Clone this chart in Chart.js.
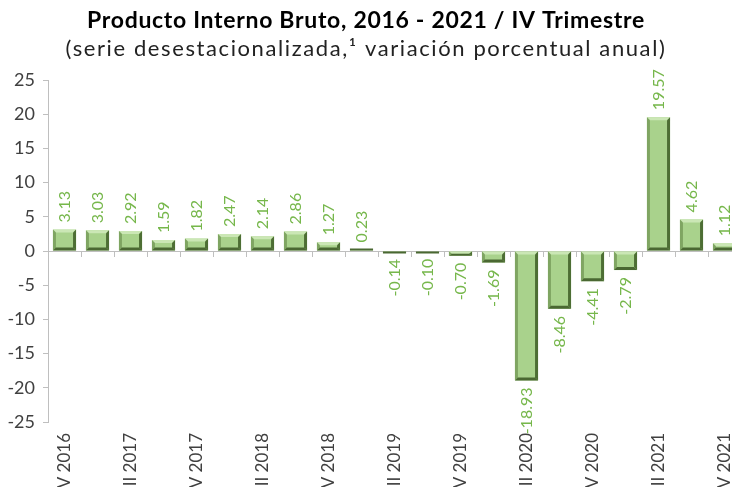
<!DOCTYPE html>
<html lang="es">
<head>
<meta charset="UTF-8">
<title>Producto Interno Bruto</title>
<script src="https://cdn.jsdelivr.net/npm/chart.js"></script>
<style>
    html, body {
        margin: 0;
        padding: 0;
        background: #ffffff;
        overflow: hidden;
    }
    .chart-box {
        position: absolute;
        left: 0;
        top: 0;
        width: 741px;
        height: 506px;
    }
</style>
</head>
<body>
<div class="chart-box">
    <canvas id="pib-chart"></canvas>
</div>
<script>
// Trimestres, IV 2016 - IV 2021
const quarters = [
    'IV 2016',
    'I 2017', 'II 2017', 'III 2017', 'IV 2017',
    'I 2018', 'II 2018', 'III 2018', 'IV 2018',
    'I 2019', 'II 2019', 'III 2019', 'IV 2019',
    'I 2020', 'II 2020', 'III 2020', 'IV 2020',
    'I 2021', 'II 2021', 'III 2021', 'IV 2021'
];

// Variacion porcentual anual (serie desestacionalizada)
const growth = [
    3.13,
    3.03, 2.92, 1.59, 1.82,
    2.47, 2.14, 2.86, 1.27,
    0.23, -0.14, -0.10, -0.70,
    -1.69, -18.93, -8.46, -4.41,
    -2.79, 19.57, 4.62, 1.12
];

const yMin = -25;
const yMax = 25;
const yStep = 5;

const chartTitle = 'Producto Interno Bruto, 2016 - 2021 / IV Trimestre';
const chartSubtitle = '(serie desestacionalizada,\u00b9 variación porcentual anual)';

const FONT = 'Lato, "DejaVu Sans", sans-serif';
const AXIS_GRAY = '#bfbfbf';
const TEXT_GRAY = '#404040';
const LABEL_GREEN = '#76b74b';

// title block, drawn with a little letter spacing
const titlePlugin = {
    id: 'titleBlock',
    afterDraw(chart) {
        const ctx = chart.ctx;
        ctx.save();
        ctx.textAlign = 'center';
        ctx.textBaseline = 'middle';
        ctx.fillStyle = '#000000';
        ctx.font = 'bold 23px ' + FONT;
        ctx.letterSpacing = '0.7px';
        ctx.fillText(chartTitle, 366, 21);
        ctx.fillStyle = '#222222';
        ctx.font = '22px ' + FONT;
        ctx.letterSpacing = '1.6px';
        ctx.fillText(chartSubtitle, 366, 49);
        ctx.restore();
    }
};

// bevelled edges on each bar (light top/left, dark right/bottom)
const bevelPlugin = {
    id: 'bevel',
    afterDatasetsDraw(chart) {
        const ctx = chart.ctx;
        const meta = chart.getDatasetMeta(0);
        const b = 3;
        ctx.save();
        meta.data.forEach(bar => {
            const left = bar.x - bar.width / 2;
            const right = bar.x + bar.width / 2;
            const top = Math.min(bar.y, bar.base);
            const bottom = Math.max(bar.y, bar.base);

            // very small values: just a dark sliver
            if (bottom - top < 2) {
                ctx.fillStyle = '#4a6832';
                if (bar.y < bar.base) {
                    ctx.fillRect(left, bar.base - 2, bar.width, 2);
                } else {
                    ctx.fillRect(left, bar.base, bar.width, 2);
                }
                return;
            }
            const bb = Math.min(b, (bottom - top) / 2);

            const poly = (pts, color) => {
                ctx.beginPath();
                ctx.moveTo(pts[0][0], pts[0][1]);
                for (let i = 1; i < pts.length; i++) ctx.lineTo(pts[i][0], pts[i][1]);
                ctx.closePath();
                ctx.fillStyle = color;
                ctx.fill();
            };
            poly([[left, top], [right, top], [right - b, top + bb], [left + b, top + bb]], '#cbe7b5');
            poly([[left, top], [left + b, top + bb], [left + b, bottom - bb], [left, bottom]], '#7fa562');
            poly([[right, top], [right, bottom], [right - b, bottom - bb], [right - b, top + bb]], '#4d6e34');
            poly([[left, bottom], [right, bottom], [right - b, bottom - bb], [left + b, bottom - bb]], '#4a6832');
        });
        ctx.restore();
    }
};

// rotated value labels at the end of each bar
const valueLabelPlugin = {
    id: 'valueLabels',
    afterDatasetsDraw(chart) {
        const ctx = chart.ctx;
        const meta = chart.getDatasetMeta(0);
        const values = chart.data.datasets[0].data;
        ctx.save();
        ctx.font = '16px ' + FONT;
        ctx.fillStyle = LABEL_GREEN;
        ctx.textBaseline = 'middle';
        meta.data.forEach((bar, i) => {
            const v = values[i];
            ctx.save();
            if (v >= 0) {
                ctx.translate(bar.x, bar.y - 7);
                ctx.rotate(-Math.PI / 2);
                ctx.textAlign = 'left';
            } else {
                ctx.translate(bar.x, bar.y + 7);
                ctx.rotate(-Math.PI / 2);
                ctx.textAlign = 'right';
            }
            ctx.fillText(v.toFixed(2), 0, 0);
            ctx.restore();
        });
        ctx.restore();
    }
};

new Chart(document.getElementById('pib-chart'), {
    type: 'bar',
    data: {
        labels: quarters,
        datasets: [{
            data: growth,
            backgroundColor: '#a9d28c',
            borderWidth: 0,
            barPercentage: 0.7,
            categoryPercentage: 1.0
        }]
    },
    options: {
        responsive: true,
        maintainAspectRatio: false,
        animation: false,
        layout: {
            padding: { left: 4, right: 0, top: 80, bottom: 0 }
        },
        plugins: {
            legend: { display: false },
            tooltip: { enabled: false },
            title: { display: false }
        },
        scales: {
            x: {
                grid: { display: false, drawTicks: false },
                border: { display: false },
                ticks: {
                    autoSkip: false,
                    minRotation: 90,
                    maxRotation: 90,
                    padding: 11,
                    color: TEXT_GRAY,
                    font: { family: FONT, size: 17 },
                    callback: (val, idx) => idx % 2 === 0 ? quarters[idx] : ''
                },
                afterFit(scale) {
                    scale.height = 84;
                    scale.paddingLeft = 0;
                    scale.paddingRight = 0;
                }
            },
            // zero line with marks between quarters
            x2: {
                type: 'category',
                labels: quarters,
                offset: true,
                position: { y: 0 },
                grid: {
                    drawOnChartArea: false,
                    offset: true,
                    tickLength: 5,
                    color: AXIS_GRAY
                },
                border: { color: AXIS_GRAY },
                ticks: { display: false },
                afterFit(scale) {
                    scale.paddingLeft = 0;
                    scale.paddingRight = 0;
                }
            },
            y: {
                min: yMin,
                max: yMax,
                grid: {
                    drawOnChartArea: false,
                    tickLength: 5,
                    color: AXIS_GRAY
                },
                border: { color: AXIS_GRAY },
                ticks: {
                    stepSize: yStep,
                    padding: 8,
                    color: TEXT_GRAY,
                    font: { family: FONT, size: 18 }
                },
                afterFit(scale) {
                    scale.width = 44;
                }
            }
        }
    },
    plugins: [titlePlugin, bevelPlugin, valueLabelPlugin]
});
</script>
</body>
</html>
